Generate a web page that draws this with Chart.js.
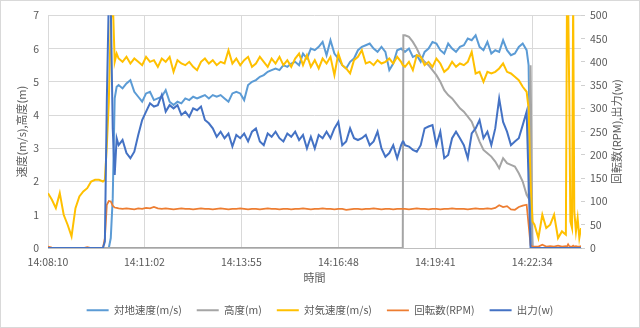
<!DOCTYPE html>
<html>
<head>
<meta charset="utf-8">
<script src="https://cdn.jsdelivr.net/npm/chart.js@4.4.1/dist/chart.umd.min.js"></script>
<style>
html,body{margin:0;padding:0;background:#fff;}
canvas{display:block;}
</style>
</head>
<body>
<canvas id="flightChart" width="640" height="328"></canvas>
<script>
// ── data (x = seconds since 14:08:10) ──
var times = [
    0,7,14,21,28,35,42,49,56,63,70,77,84,91,98,
    101.5,105,108.5,112,115.5,119,122.5,126,
    133,140,147,154,161,168,175,182,189,196,
    203,210,217,224,231,238,245,252,259,266,
    273,280,287,294,301,308,315,322,329,336,
    343,350,357,364,371,378,385,392,399,406,
    413,420,427,434,441,448,455,462,469,476,
    483,490,497,504,511,518,525,532,539,546,
    553,560,567,574,581,588,595,602,609,616,
    623,630,
    633,634,
    637,644,651,658,665,672,679,686,693,700,
    707,714,721,728,735,742,749,756,763,770,
    777,784,791,798,805,812,819,826,833,840,
    847,854,
    857.5,861,864.5,868,
    875,882,889,896,903,910,917,924,
    926,928,930,932,935,937,939,942,945,948,951
];
var groundSpeed = [
    0,0,0,0,0,0,0,0,0,0,0,0,0,0,0,
    0,0,0,0.3,1.5,4.5,4.85,4.9,
    4.8,4.95,5.05,4.7,4.55,4.4,4.65,4.7,4.45,4.5,
    4.55,4.75,4.4,4.3,4.4,4.35,4.5,4.45,4.55,4.5,
    4.55,4.6,4.5,4.6,4.55,4.6,4.5,4.4,4.65,4.7,
    4.65,4.45,4.9,5.0,5.05,5.15,5.2,5.3,5.35,5.4,
    5.35,5.5,5.45,5.55,5.6,5.5,5.85,5.7,6.0,5.95,
    6.05,6.2,5.8,6.25,5.85,5.7,5.5,5.4,5.6,5.7,
    5.95,6.05,6.1,6.15,6.0,5.9,6.05,5.9,5.35,5.55,
    5.95,6.0,
    5.95,5.95,
    5.9,6.0,5.75,5.8,5.6,5.9,6.0,6.2,6.15,5.95,
    5.85,6.15,6.0,5.9,6.05,6.1,6.3,6.25,6.4,6.05,
    5.95,6.2,5.85,5.95,5.9,6.25,5.95,5.8,5.85,6.05,
    6.15,5.95,
    5.5,1.5,0,0,
    0,0,0,0,0,0,0,0,
    0,0,0,0,0,0,0,0,0,0,0
];
var altitude = [
    0,0,0,0,0,0,0,0,0,0,0,0,0,0,0,
    0,0,0,0,0,0,0,0,
    0,0,0,0,0,0,0,0,0,0,
    0,0,0,0,0,0,0,0,0,0,
    0,0,0,0,0,0,0,0,0,0,
    0,0,0,0,0,0,0,0,0,0,
    0,0,0,0,0,0,0,0,0,0,
    0,0,0,0,0,0,0,0,0,0,
    0,0,0,0,0,0,0,0,0,0,
    0,0,
    0,6.4,
    6.4,6.35,6.2,6.0,5.75,5.6,5.5,5.35,5.2,5.0,
    4.75,4.6,4.5,4.35,4.2,4.1,3.95,3.8,3.5,3.2,
    2.95,2.85,2.75,2.6,2.4,2.7,2.55,2.5,2.45,2.25,
    2.0,1.6,
    1.5,5.5,0,0,
    0,0,0,0,0,0,0,0,
    0,0,0,0,0,0,0,0,0,0,0
];
var airSpeed = [
    1.65,1.45,1.2,1.65,1.0,0.7,0.35,1.2,1.55,1.7,1.8,2.0,2.05,2.05,2.0,
    2.05,3.1,4.4,6.8,7.5,5.6,5.85,5.7,
    5.6,5.75,5.55,5.7,5.6,5.5,5.75,5.6,5.65,5.45,
    5.7,5.6,5.75,5.3,5.65,5.55,5.5,5.6,5.45,5.35,
    5.6,5.7,5.55,5.65,5.5,5.6,5.55,5.95,5.55,5.7,
    5.5,5.65,5.75,5.45,5.55,5.75,5.6,5.45,5.7,5.55,
    5.75,5.5,5.65,5.45,5.7,5.85,5.5,5.8,5.45,5.65,
    5.4,5.7,5.55,5.75,5.2,5.85,5.5,5.4,5.25,5.65,
    5.75,5.95,5.55,5.6,5.5,5.65,5.55,5.6,5.7,5.55,
    5.75,5.6,
    5.5,5.5,
    5.45,5.6,5.35,5.8,5.75,5.5,5.6,5.45,5.7,5.55,
    5.3,5.4,5.6,5.45,5.55,5.5,5.6,5.9,5.25,5.3,
    5.0,5.3,5.25,5.3,5.4,5.55,5.3,5.25,5.15,5.05,
    4.85,4.7,
    4.2,2.0,0.8,0.7,
    0.3,1.0,0.6,0.7,1.0,0.3,0.5,0.4,
    7.5,7.5,4.7,0.8,0.6,7.5,1.1,0.5,0.9,0.3,0.6
];
var rpm = [
    3,1,0,0,0,0,0,0,0,0,2,0,0,0,0,
    21,93,101,100,91,87,86,85,
    84,85,84,83,85,84,86,85,88,85,
    84,85,84,83,84,85,84,84,83,84,
    85,84,84,83,84,85,84,83,84,84,
    85,84,83,84,84,83,84,85,84,84,
    83,84,84,83,84,84,85,84,83,84,
    84,85,84,84,83,84,84,82,83,84,
    84,83,84,84,85,84,83,84,84,83,
    84,84,
    84,84,
    84,83,84,85,84,84,83,84,84,83,
    84,84,85,84,84,84,83,84,85,84,
    84,85,84,86,92,88,90,83,82,88,
    91,93,
    50,6,3,3,
    3,7,3,4,3,5,3,4,
    3,8,4,3,3,5,3,4,3,3,4
];
var power = [
    0,0,0,0,0,0,0,0,0,0,0,0,0,0,0,
    14,321,536,521,257,157,236,221,
    232,204,193,207,243,275,293,311,304,307,
    329,293,307,300,307,286,293,282,300,296,
    304,275,268,257,239,250,236,246,218,243,
    236,246,229,250,257,229,221,246,239,250,
    236,229,246,239,250,232,243,214,239,214,
    243,236,250,236,257,271,221,229,257,236,
    232,236,243,221,229,250,214,196,204,221,
    193,221,
    229,229,
    221,218,211,207,221,257,261,264,221,250,
    193,200,236,250,236,221,193,246,257,275,
    236,250,221,257,321,271,250,221,229,236,
    264,293,
    143,0,0,0,
    0,0,0,0,0,0,0,0,
    0,0,0,0,0,0,0,0,0,0,0
];
var seriesNames = ['対地速度(m/s)', '高度(m)', '対気速度(m/s)', '回転数(RPM)', '出力(w)'];
var seriesColors = ['#5B9BD5', '#A5A5A5', '#FFC000', '#ED7D31', '#4472C4'];
var tickSecs = [0, 172, 345, 518, 691, 864];
var tickLabels = ['14:08:10', '14:11:02', '14:13:55', '14:16:48', '14:19:41', '14:22:34'];
var xTitle = '時間';
var yTitle = '速度(m/s),高度(m)';
var y2Title = '回転数(RPM),出力(w)';

var FONT = '"Noto Sans CJK JP", "Noto Sans", sans-serif';
var TXT = '#595959';

function pts(vals) {
    return times.map(function(t, i){ return {x: t, y: vals[i]}; });
}

// ── border + axis titles (right title reads bottom-to-top like the left one) ──
var frameAndTitles = {
    id: 'frameAndTitles',
    beforeDraw: function(chart) {
        var ctx = chart.ctx;
        ctx.save();
        ctx.fillStyle = '#fff';
        ctx.fillRect(0, 0, chart.width, chart.height);
        ctx.strokeStyle = '#D9D9D9';
        ctx.lineWidth = 1;
        ctx.strokeRect(0.5, 0.5, chart.width - 1, chart.height - 1);
        ctx.restore();
    },
    afterDraw: function(chart) {
        var ctx = chart.ctx, a = chart.chartArea;
        var midY = (a.top + a.bottom) / 2;
        ctx.save();
        ctx.fillStyle = TXT;
        ctx.font = '11px ' + FONT;
        ctx.textAlign = 'center';
        ctx.textBaseline = 'middle';
        ctx.fillText(xTitle, (a.left + a.right) / 2, a.bottom + 30);
        ctx.save();
        ctx.translate(22, midY); ctx.rotate(-Math.PI / 2);
        ctx.fillText(yTitle, 0, 0);
        ctx.restore();
        ctx.translate(617, midY); ctx.rotate(-Math.PI / 2);
        ctx.fillText(y2Title, 0, 0);
        ctx.restore();
    }
};

var axisOf = ['y', 'y', 'y', 'y2', 'y2'];
var valuesOf = [groundSpeed, altitude, airSpeed, rpm, power];

var datasets = seriesNames.map(function(name, i) {
    return {
        label: name,
        data: pts(valuesOf[i]),
        yAxisID: axisOf[i],
        borderColor: seriesColors[i],
        backgroundColor: seriesColors[i],
        borderWidth: i === 3 ? 1.75 : 2,
        pointRadius: 0,
        tension: 0,
        fill: false,
        order: 5 - i   // later series drawn on top, as in the original
    };
});

new Chart(document.getElementById('flightChart'), {
    type: 'line',
    data: {datasets: datasets},
    plugins: [frameAndTitles],
    options: {
        responsive: false,
        animation: false,
        layout: {padding: {top: 13, bottom: 2.5, left: 0, right: 0}},
        plugins: {
            tooltip: {enabled: false},
            legend: {
                position: 'bottom',
                labels: {
                    usePointStyle: true, pointStyle: 'line', pointStyleWidth: 22,
                    padding: 15, color: TXT, font: {size: 10.5, family: FONT},
                    sort: function(a, b){ return a.datasetIndex - b.datasetIndex; }
                }
            }
        },
        scales: {
            x: {
                type: 'linear', min: 0, max: 951,
                grid: {color: '#D9D9D9', drawTicks: false},
                border: {color: '#BFBFBF'},
                afterBuildTicks: function(s){ s.ticks = tickSecs.map(function(v){ return {value: v}; }); },
                ticks: {
                    autoSkip: false, maxRotation: 0, padding: 8, color: TXT,
                    font: {size: 10.5, family: FONT},
                    callback: function(v, i){ return tickLabels[i]; }
                },
                afterFit: function(s){ s.height = 42; }
            },
            y: {
                position: 'left', min: 0, max: 7,
                ticks: {stepSize: 1, padding: 9, color: TXT, font: {size: 10.5, family: FONT}},
                grid: {color: '#D9D9D9', drawTicks: false},
                border: {display: false},
                afterFit: function(s){ s.width = 48; }
            },
            y2: {
                position: 'right', min: 0, max: 500,
                ticks: {stepSize: 50, padding: 5, color: TXT, font: {size: 10.5, family: FONT}},
                grid: {drawOnChartArea: false, drawTicks: true, tickLength: 4, color: '#D0D0D0'},
                border: {display: false},
                afterFit: function(s){ s.width = 59; }
            }
        }
    }
});
</script>
</body>
</html>
